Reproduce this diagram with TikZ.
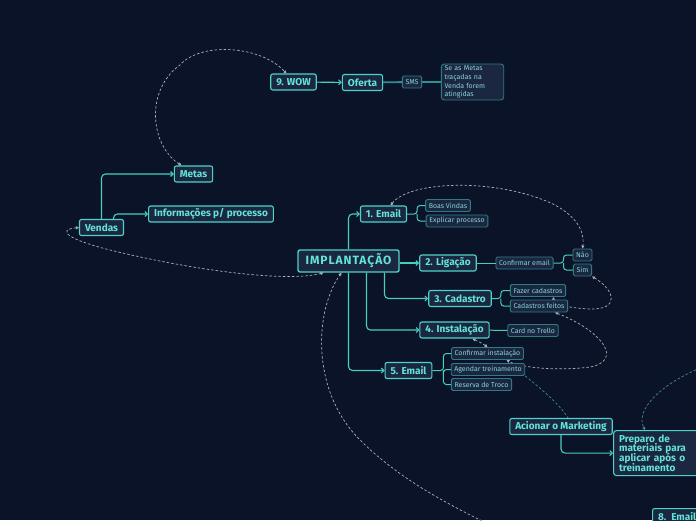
\documentclass[tikz,border=0pt]{standalone}
\usepackage{fontspec}
\setmainfont{Fira Sans}
\usetikzlibrary{arrows.meta, positioning, backgrounds}

\definecolor{bgnavy}{HTML}{0B1329}
\definecolor{boxfill}{HTML}{1B2641}
\definecolor{topicline}{HTML}{4FD3C6}
\definecolor{topictext}{HTML}{62E4D6}
\definecolor{leafline}{HTML}{2F7C80}
\definecolor{leaftext}{HTML}{86D4D4}
\definecolor{linecol}{HTML}{48CDC0}
\definecolor{darklink}{HTML}{2E8F90}
\definecolor{dashgray}{HTML}{A9B0BC}
\definecolor{dashteal}{HTML}{3E8E94}
\newcommand{\tightlines}{\setlength{\lineskiplimit}{-5pt}}

\begin{document}
\begin{tikzpicture}[x=1pt, y=-1pt,
    topic/.style={rectangle, rounded corners=2pt, draw=topicline, line width=1.1pt, fill=boxfill, text=topictext, font=\bfseries\fontsize{10}{9.8}\selectfont, inner xsep=5.5pt, inner ysep=0pt, minimum height=16pt},
    root/.style={topic, line width=1.4pt, font=\bfseries\fontsize{12}{13}\selectfont\addfontfeatures{LetterSpace=8}, inner xsep=7.5pt, minimum height=22pt},
    leaf/.style={rectangle, rounded corners=1.5pt, draw=leafline, line width=0.9pt, fill=boxfill, text=leaftext, font=\fontsize{7}{8.6}\selectfont, inner xsep=3.2pt, inner ysep=0pt, minimum height=12pt},
    branch/.style={draw=linecol, line width=1.1pt, rounded corners=4pt, -{Straight Barb[length=2.5pt, width=5pt]}},
    twig/.style={draw=linecol, line width=1pt, rounded corners=3pt},
    link/.style={draw=darklink, line width=1.8pt},
    relation/.style={draw=dashgray, line width=0.7pt, dash pattern=on 2.5pt off 2pt, {Triangle[length=3pt, width=3pt]}-{Triangle[length=3pt, width=3pt]}},
    tealrel/.style={relation, draw=dashteal}
]
\useasboundingbox (0,0) rectangle (696,520);
\clip (0,0) rectangle (696,520);
\begin{pgfonlayer}{background}
\fill[bgnavy] (0,0) rectangle (696,520);
\end{pgfonlayer}

% top branch
\node[topic] (wow) at (293.5,82) {9. WOW};
\node[topic] (oferta) at (362.5,82.5) {Oferta};
\node[leaf] (sms) at (412,82) {SMS};
\node[leaf, align=left, text width=56pt, minimum height=36pt, rounded corners=3pt] (cond) at (472.5,82) {Se as Metas\\traçadas na\\Venda forem\\atingidas};

% left branch
\node[topic] (metas) at (193.5,174) {Metas};
\node[topic] (vendas) at (101.5,227.5) {Vendas};
\node[topic] (info) at (211,214) {Informações p/ processo};

% central topic
\node[root] (impl) at (348.5,261) {IMPLANTAÇÃO};
\node[topic] (email1) at (383.5,214) {1. Email};
\node[leaf] (boas) at (448,205.5) {Boas Vindas};
\node[leaf] (explicar) at (457,221) {Explicar processo};
\node[topic] (ligacao) at (448,263) {2. Ligação};
\node[leaf] (confemail) at (524.5,263) {Confirmar email};
\node[leaf] (nao) at (582.5,255) {Não};
\node[leaf] (sim) at (582.5,270) {Sim};
\node[topic] (cadastro) at (460,298.5) {3. Cadastro};
\node[leaf] (fazer) at (538,290.5) {Fazer cadastros};
\node[leaf] (feitos) at (539,306) {Cadastros feitos};
\node[topic] (instal) at (454.5,330) {4. Instalação};
\node[leaf] (trello) at (533,330.5) {Card no Trello};
\node[topic] (email5) at (408.5,370.5) {5. Email};
\node[leaf] (confinst) at (487.5,353.5) {Confirmar instalação};
\node[leaf] (agendar) at (488,369.5) {Agendar treinamento};
\node[leaf] (troco) at (481.5,384.5) {Reserva de Troco};

% marketing
\node[topic, anchor=north west, align=left, text width=80pt, minimum height=45pt, rounded corners=3pt, font=\bfseries\fontsize{10}{9.6}\selectfont\tightlines] (preparo) at (613,430) {Preparo de\\materiais para\\aplicar após o\\treinamento};
\node[topic] (mkt) at (561,426.5) {Acionar o Marketing};
\node[topic, anchor=north west, align=left, text width=50pt, minimum height=15pt] (email8) at (652,508) {8. Email};

\coordinate (offright) at (700,368);
\coordinate (offbottom) at (490,525);

% tree connectors
\draw[branch] (wow) -- (oferta);
\draw[link] (oferta) -- (sms);
\draw[link] (sms) -- (cond);
\draw[branch] (vendas.north) |- (metas);
\draw[branch] ([xshift=12pt]vendas.north) |- (info);
\draw[branch] (impl.north) |- (email1);
\draw[branch] (impl.east |- ligacao) -- (ligacao);
\draw[branch] ([xshift=36pt]impl.south) |- (cadastro);
\draw[branch] ([xshift=18pt]impl.south) |- (instal);
\draw[branch] (impl.south) |- (email5);
\draw[twig] (email1.east) -- ++(10,0) coordinate (e1fork) |- (boas);
\draw[twig] (e1fork) |- (explicar);
\draw[twig] (ligacao) -- (confemail);
\draw[twig] (confemail.east) -- ++(10,0) coordinate (cefork) |- (nao);
\draw[twig] (cefork) |- (sim);
\draw[twig] (cadastro.east) -- ++(9,0) coordinate (cadfork) |- (fazer);
\draw[twig] (cadfork) |- (feitos);
\draw[twig] (instal) -- (trello);
\draw[twig] (email5.east) -- ++(11,0) coordinate (e5fork) |- (confinst);
\draw[twig] (e5fork) |- (agendar);
\draw[twig] (e5fork) |- (troco);
\draw[branch] (mkt.south) |- (preparo.west);

% relations
\begin{pgfonlayer}{background}
\draw[relation] ([xshift=-12pt]metas.north) .. controls (150,145) and (145,90) .. (180,65) .. controls (200,42) and (260,45) .. ([xshift=-7pt]wow.north);
\draw[relation] (vendas.west) .. controls (55,230) and (70,240) .. (110,250) .. controls (200,272) and (290,282) .. ([xshift=-25pt]impl.south);
\draw[relation] ([xshift=7pt]email1.north) .. controls (410,180) and (500,178) .. (555,205) .. controls (575,216) and (585,230) .. (nao.north);
\draw[relation] (sim.south east) .. controls (615,290) and (620,310) .. (590,309) .. controls (570,308) and (555,305) .. ([xshift=15pt]fazer.south);
\draw[relation] ([xshift=16pt]feitos.south) .. controls (600,330) and (625,360) .. (590,367) .. controls (560,371) and (520,368) .. ([xshift=19pt]confinst.south);
\draw[relation] (confinst.north) .. controls (482,343) and (477,341) .. ([xshift=18pt]instal.south);
\draw[tealrel, -] (agendar.south east) .. controls (545,392) and (560,405) .. ([xshift=7pt]mkt.north);
\draw[tealrel, -{Triangle[length=3pt, width=3pt]}] (offright) .. controls (660,385) and (635,410) .. ([xshift=32pt]preparo.north west);
\draw[relation, -{Triangle[length=3pt, width=3pt]}] (offbottom) .. controls (450,505) and (400,480) .. (360,440) .. controls (310,390) and (315,310) .. ([xshift=-7pt]impl.south);
\end{pgfonlayer}
\end{tikzpicture}
\end{document}
